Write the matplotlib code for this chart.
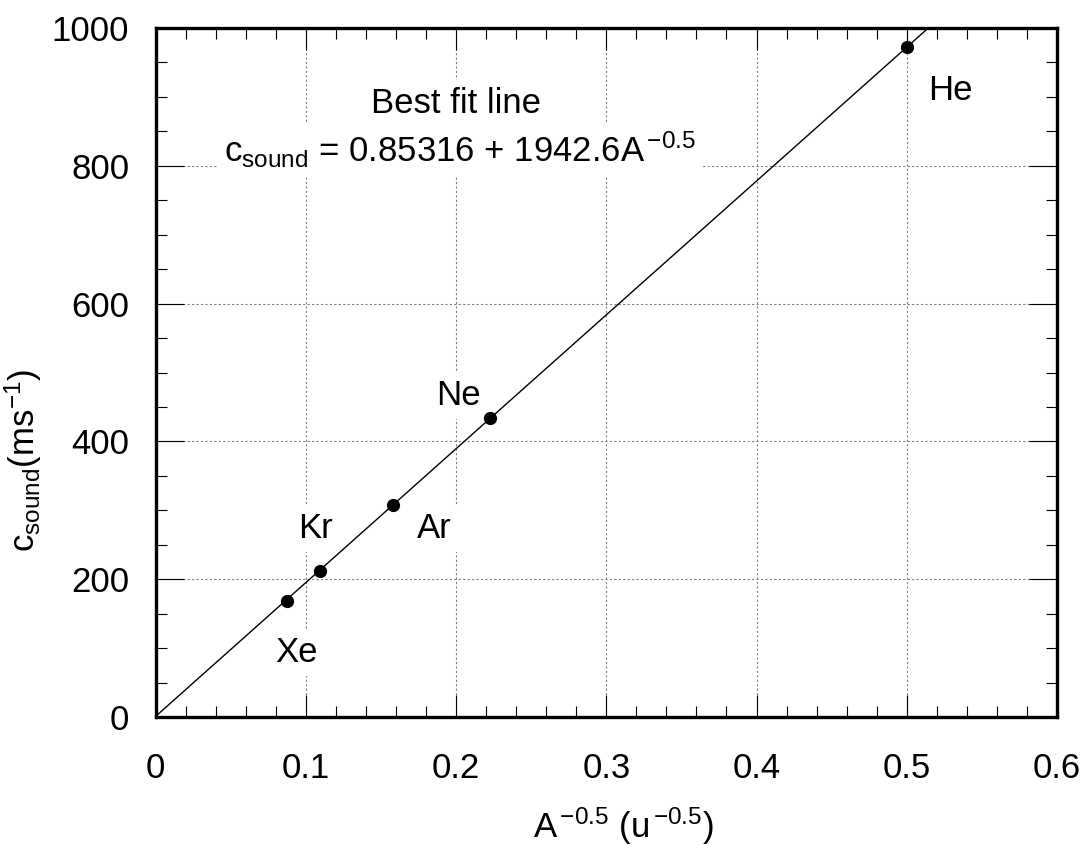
import matplotlib
matplotlib.use("Agg")
import matplotlib.pyplot as plt
from matplotlib.ticker import MultipleLocator
import numpy as np

# Data
elements = ["Xe", "Kr", "Ar", "Ne", "He"]
x_vals = [0.0873, 0.1094, 0.1583, 0.2226, 0.5001]
y_vals = [169, 212, 308, 434, 972]
fit_intercept = 0.85316
fit_slope = 1942.6
fit_x = [0.0, 0.6]

label_x = [0.0935, 0.1065, 0.1857, 0.2017, 0.529]
label_y = [80, 260, 260, 453, 896]

x_ticks = [0, 0.1, 0.2, 0.3, 0.4, 0.5, 0.6]
x_tick_labels = ["0", "0.1", "0.2", "0.3", "0.4", "0.5", "0.6"]
y_ticks = [0, 200, 400, 600, 800, 1000]
y_tick_labels = ["0", "200", "400", "600", "800", "1000"]

plt.rcParams['font.family'] = ['Liberation Sans', 'DejaVu Sans']
plt.rcParams['mathtext.fontset'] = 'custom'
plt.rcParams['mathtext.rm'] = 'Liberation Sans'
plt.rcParams['mathtext.it'] = 'Liberation Sans:italic'
plt.rcParams['mathtext.bf'] = 'Liberation Sans:bold'
plt.rcParams['mathtext.sf'] = 'Liberation Sans'

FS = 25

fig = plt.figure(figsize=(10.9, 8.46), dpi=100)
ax = fig.add_axes([155.6/1090, 1 - 717/846, (1057 - 155.6)/1090, (717 - 28)/846])

ax.set_xlim(0, 0.6)
ax.set_ylim(0, 1000)

# grid
ax.grid(True, which='major', linestyle=(0, (2, 2)), color='#808080', linewidth=0.8, zorder=0)
ax.set_axisbelow(True)

# fit line
fx = np.array(fit_x)
fy = fit_intercept + fit_slope * fx
ax.plot(fx, fy, color='black', linewidth=1.0, zorder=3, clip_on=True)

# points
ax.plot(x_vals, y_vals, 'o', color='black', markersize=8.5, zorder=4)

# element labels
for name, lx, ly in zip(elements, label_x, label_y):
    ax.text(lx, ly, name, fontsize=FS, ha='center', va='baseline', zorder=2,
            bbox=dict(facecolor='white', edgecolor='none', pad=5))

ax.text(0.200, 877, "Best fit line", fontsize=FS, ha='center', va='baseline', zorder=2,
        bbox=dict(facecolor='white', edgecolor='none', pad=5))
ax.text(0.2026, 805, r"$\mathrm{c_{sound}}$ = 0.85316 + 1942.6A$^{\,\mathrm{-0.5}}$",
        fontsize=FS, ha='center', va='baseline', zorder=2,
        bbox=dict(facecolor='white', edgecolor='none', pad=4))

# ticks
ax.set_xticks(x_ticks)
ax.set_xticklabels(x_tick_labels)
ax.set_yticks(y_ticks)
ax.set_yticklabels(y_tick_labels)
ax.xaxis.set_minor_locator(MultipleLocator(0.02))
ax.yaxis.set_minor_locator(MultipleLocator(50))

ax.tick_params(axis='both', which='both', direction='in', top=True, right=True, width=0.8, color='black')
ax.tick_params(axis='x', which='major', length=16, pad=25, labelsize=FS)
ax.tick_params(axis='y', which='major', length=20, pad=19, labelsize=FS)
ax.tick_params(axis='both', which='minor', length=8)

for s in ax.spines.values():
    s.set_linewidth(2.4)
    s.set_zorder(5)

ax.set_xlabel(r"A$^{\,\mathrm{-0.5}}$ (u$^{\,\mathrm{-0.5}}$)", fontsize=FS)
ax.xaxis.set_label_coords(0.5185, -0.129)
ax.set_ylabel(r"$\mathrm{c_{sound}(ms^{-1})}$", fontsize=FS)
ax.yaxis.set_label_coords(-0.1235, 0.372)

fig.savefig("out.png", dpi=100)
